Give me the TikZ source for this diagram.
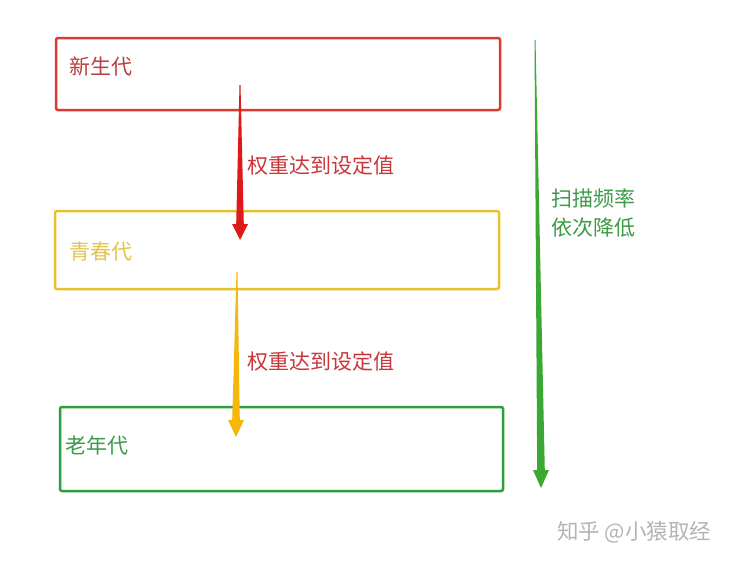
\documentclass[tikz,border=0pt]{standalone}
\usepackage{fontspec}
\setmainfont{Noto Sans CJK SC}
\usepackage{tikz}
\usetikzlibrary{calc,positioning}
\definecolor{youngred}{HTML}{D93A2E}
\definecolor{youngtext}{HTML}{B84040}
\definecolor{labelred}{HTML}{C8373A}
\definecolor{midyellow}{HTML}{E6C12C}
\definecolor{midtext}{HTML}{E2C44A}
\definecolor{arrowyellow}{HTML}{F5B70A}
\definecolor{oldgreen}{HTML}{2E9E3A}
\definecolor{oldtext}{HTML}{3C9A48}
\definecolor{markgray}{HTML}{B4B4B4}
% tapered arrow: start, tip, colour, head length
\newcommand\taperarrow[4]{%
  \fill[#3] let \p1=(#1), \p2=(#2) in
    (\x1-0.5pt,\y1) -- (\x2-3.8pt,\y2+#4) -- (\x2-8pt,\y2+#4) -- (\x2,\y2)
    -- (\x2+8pt,\y2+#4) -- (\x2+3.8pt,\y2+#4) -- (\x1+0.5pt,\y1) -- cycle;}

\begin{document}
\begin{tikzpicture}[x=1pt,y=-1pt,
  genbox/.style={draw, line width=2.5pt, rounded corners=2pt, minimum width=444pt, inner sep=0pt},
  gentext/.style={anchor=west, inner sep=0pt, font=\fontsize{21}{25}\selectfont},
  steptext/.style={anchor=west, inner sep=0pt, text=labelred, font=\fontsize{21}{25}\selectfont}
  ]
  \useasboundingbox[fill=white] (0,0) rectangle (732,562);

  \node[genbox, youngred, minimum height=72pt] (young) at (278,74) {};
  \node[genbox, midyellow, minimum height=78pt] (mid) at (277,250) {};
  \node[genbox, oldgreen, minimum width=443pt, minimum height=84pt] (old) at (281.5,449) {};

  \node[gentext, text=youngtext] (youngname) at (69,66) {新生代};
  \node[gentext, text=midtext] (midname) at (69,252) {青春代};
  \node[gentext, text=oldtext] (oldname) at (65,445) {老年代};

  \coordinate (a1) at (240,85);
  \coordinate (a2) at (240,240);
  \coordinate (b1) at (237,272);
  \coordinate (b2) at (236,437);
  \coordinate (c1) at (535,40);
  \coordinate (c2) at (541,488);

  \taperarrow{a1}{a2}{red!85!black!90}{16pt}
  \taperarrow{b1}{b2}{arrowyellow}{17pt}
  \taperarrow{c1}{c2}{oldgreen!90!lime}{18pt}

  \node[steptext] (upone) at (247,165) {权重达到设定值};
  \node[steptext] (uptwo) at (247,361) {权重达到设定值};
  \node[anchor=west, align=left, inner sep=0pt, text=oldtext, font=\fontsize{21}{29}\selectfont] (scan) at (551,212.5) {扫描频率\\依次降低};

  \node[anchor=west, inner sep=0pt, text=markgray, font=\fontsize{21.5}{25}\selectfont] (mark) at (557,532) {知乎 @小猿取经};
\end{tikzpicture}
\end{document}
